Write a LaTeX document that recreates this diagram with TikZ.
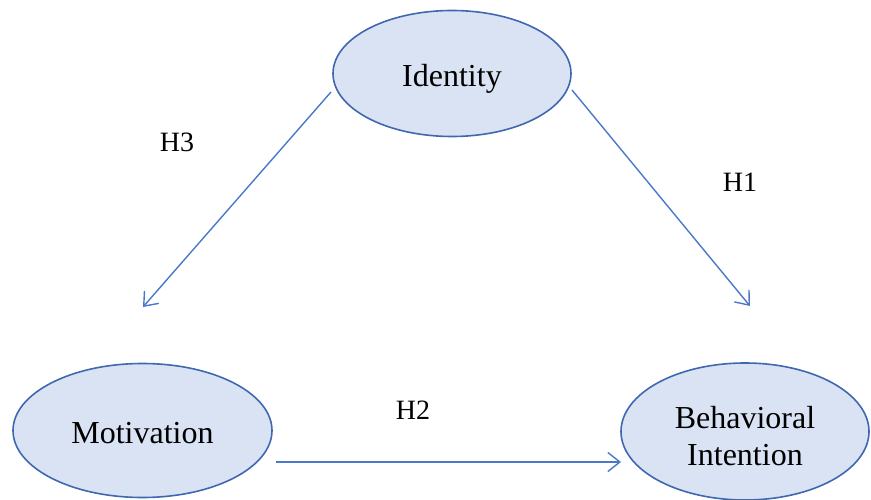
\documentclass[tikz,border=0pt]{standalone}
\usepackage{fontspec}
\setmainfont{Liberation Serif}
\usetikzlibrary{shapes.geometric,arrows.meta}
\definecolor{efill}{HTML}{DAE3F3}
\definecolor{edraw}{HTML}{4068B0}
\definecolor{arr}{HTML}{4A78CC}
\tikzset{
  construct/.style={ellipse, draw=edraw, fill=efill, line width=1.6pt, inner sep=0pt},
  ctext/.style={font=\fontsize{32}{37}\selectfont, align=center},
  path arrow/.style={draw=arr, line width=1.4pt, -{Straight Barb[length=12pt,width=19pt,line width=1.4pt]}},
  hlabel/.style={font=\fontsize{28}{32}\selectfont}
}
\begin{document}
\begin{tikzpicture}[x=1pt,y=-1pt]
\useasboundingbox (0,0) rectangle (871,500);
\node[construct, minimum width=238pt, minimum height=126pt,
  label={[ctext, yshift=-5pt]center:Identity}] (id) at (452,73.5) {};
\node[construct, minimum width=259pt, minimum height=134pt,
  label={[ctext, yshift=-3pt]center:Motivation}] (mot) at (142.5,430.5) {};
\node[construct, minimum width=248pt, minimum height=137pt,
  label={[ctext, yshift=-5pt]center:Behavioral\\Intention}] (bi) at (745,431.5) {};
\coordinate (h3s) at (331,92);
\coordinate (h3e) at (143,307);
\coordinate (h1s) at (572,90);
\coordinate (h1e) at (750,306);
\coordinate (h2s) at (276,462);
\coordinate (h2e) at (621,462);
\draw[path arrow] (h3s) -- (h3e);
\draw[path arrow] (h1s) -- (h1e);
\draw[path arrow] (h2s) -- (h2e);
\node[hlabel] (l3) at (177,142) {H3};
\node[hlabel] (l1) at (740,182) {H1};
\node[hlabel] (l2) at (413,410) {H2};
\end{tikzpicture}
\end{document}
